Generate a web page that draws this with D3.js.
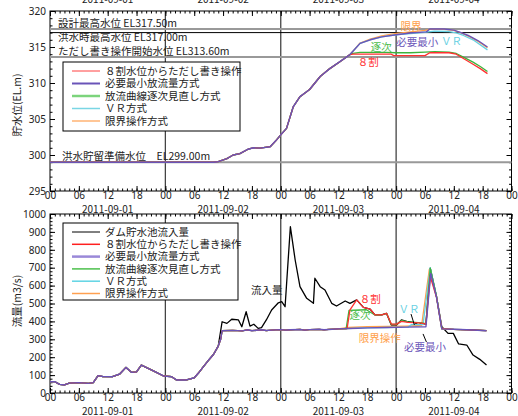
<!DOCTYPE html>
<html>
<head>
<meta charset="utf-8">
<script src="https://cdn.jsdelivr.net/npm/d3@7"></script>
<style>
body { margin: 0; background: #fff; }
svg { font-family: "Noto Sans CJK JP", "Noto Sans", sans-serif; }
</style>
</head>
<body>
<script>
// size of the page
var w = 518;
var h = 416;

// hours from 2011-09-01 00:00
var hourTicks = d3.range(0, 97, 6);
var dateLabels = ["2011-09-01", "2011-09-02", "2011-09-03", "2011-09-04"];

// ---- water level (EL.m), [hour, level]
var levelCommon = [[0,299.0],[12,299.0],[24,299.0],[34,299.0],[35,299.07],[36.8,299.5],[38.1,300.0],[39.5,300.2],
  [41.2,300.8],[42.3,301.0],[43.7,300.95],[45.8,301.15],[47,302.0],[48,302.8],[49.2,303.7],[50.6,306.7],
  [52,308.1],[54,309.1],[56.2,310.9],[58.2,312.0],[60.3,312.96],[62.4,313.95]];
var levelPurpleTail = [[64.5,315.5],[66.6,316.0],[69,316.4],[72,316.7],[75,316.95],[78.3,317.1],[79,317.5],
  [82,317.5],[84,317.35],[85.5,317.0],[87,316.6],[89,315.9],[91,315.0]];
var levelOrangeTail = [[64.5,315.55],[66.6,316.1],[69,316.55],[72,316.9],[75,317.1],[78,317.3],[79,317.45],
  [82,317.45],[84,317.3],[85.5,316.95],[87,316.5],[89,315.8],[91,314.9]];
var levelCyanTail = [[64.5,315.5],[66.6,316.0],[69,316.4],[72,316.7],[75,316.85],[78,317.05],[80,317.2],
  [83,317.15],[84.5,316.95],[86,316.6],[88,316.0],[91,314.6]];
var levelGreenTail = [[63,314.1],[64.5,314.25],[70,314.25],[72,314.2],[75,314.2],[78,314.3],[80,314.35],
  [83,314.3],[84.5,314.1],[86,313.6],[88,312.9],[89.5,312.3],[91,311.6]];
var levelRedTail = [[63,314.0],[71,314.0],[71.5,313.8],[78,313.8],[79,314.2],[83,314.2],[84.5,314.0],
  [86,313.4],[88,312.6],[89.5,312.0],[91,311.3]];

// reference water levels
var refLevels = [317.5, 317.0, 313.6, 299.0];
var refLabels = ["設計最高水位 EL317.50m", "洪水時最高水位 EL317.00m", "ただし書き操作開始水位 EL313.60m", "洪水貯留準備水位　EL299.00m"];

// ---- flow (m3/s), [hour, flow]
var inflow = [[0,63],[1,63],[2,48],[3,45],[4,55],[6,58],[8,54],[9,58],[10,97],[11,92],[13,91],[14.5,106],
  [15.8,143],[17,115],[18,118],[19,156],[21.5,124],[23.6,95],[25.3,91],[26.3,73],[28.4,73],[30,85],[31,115],
  [32,150],[33,184],[34,215],[35,262],[35.8,398],[36.8,389],[37.8,412],[39.2,408],[39.9,370],[40.8,454],
  [41.6,374],[42.4,384],[43.3,361],[44,365],[45,408],[46.1,464],[47.5,504],[48.2,510],[48.9,482],[50,929],
  [51,743],[52,594],[53.4,529],[54.8,501],[55.1,641],[56.2,594],[57.2,575],[58.6,501],[59.6,486],[61.4,514],
  [62.4,501],[63.8,520],[65.2,478],[66.6,468],[67.6,436],[69,436],[70,445],[71,380],[72.1,380],[73.1,408],
  [74.5,398],[75.9,393],[76.6,380],[77.3,389],[78.2,385],[79.1,697],[80.4,538],[81.5,370],[82.8,333],
  [83.9,333],[85,274],[86.7,268],[88,212],[89.4,188],[90.8,156]];
var flowCommon = inflow.slice(0, 27).concat([[35.5,300],[35.8,348],[38,350],[40,347],[41,353],[42,348],
  [44,353],[45,349],[46,351],[48,354],[49,351],[50,353],[52,355],[53,351],[54,354],[56,356],[57,353],
  [58,355],[60,358]]);
var flowPurpleTail = [[62,360],[64,362],[66,364],[70,366],[74,368],[78.2,370],[79.2,668],[80.4,535],
  [81.5,358],[84,356],[88,352],[90.8,348]];
var flowOrangeTail = [[62,366],[66,370],[70,372],[74,374],[77.3,377],[78.9,690],[80.4,540],[81.5,358],
  [84,356],[88,352],[90.8,348]];
var flowCyanTail = [[62,360],[64,362],[66,364],[70,366],[74.5,368],[75.2,382],[77.6,382],[79.1,700],
  [80.4,540],[81.5,358],[84,356],[88,352],[90.8,348]];
var flowGreenTail = [[61.6,358],[62.2,462],[65.8,465],[67.6,436],[69,436],[70,445],[71,383],[72.1,383],
  [73.1,405],[74.5,397],[75.9,395],[77.3,392],[78.2,388],[79.1,697],[80.4,540],[81.5,360],[84,356],
  [88,352],[90.8,348]];
var flowRedTail = [[61.8,360],[62.4,464],[63.8,520],[65.2,478],[66.6,468],[67.6,436],[69,436],[70,445],
  [71,385],[72.1,385],[73.1,400],[74.5,395],[75.9,393],[77.3,390],[78.2,385],[79.1,650],[80.4,535],
  [81.5,360],[84,356],[88,352],[90.8,348]];

var legendTop = ["８割水位からただし書き操作", "必要最小放流量方式", "放流曲線逐次見直し方式", "ＶＲ方式", "限界操作方式"];
var legendBottom = ["ダム貯水池流入量"].concat(legendTop.slice(0, 1), ["必要最小放流量方式", "放流曲線逐次見直し方式", "ＶＲ方式", "限界操作方式"]);

var col = {black: "#000", red: "#ff3030", purple: "#6a54b8", green: "#3cb43c", cyan: "#66d0e2", orange: "#ffa04a"};

var svg = d3.select("body").append("svg").attr("width", w).attr("height", h);

var x = d3.scaleLinear().domain([0, 96]).range([50, 511.5]);
var yTop = d3.scaleLinear().domain([295, 320]).range([191, 11]);
var yBot = d3.scaleLinear().domain([0, 1000]).range([393, 214]);

var pad = function(d) { return String(d % 24).padStart(2, "0"); };

function frame(y, majorY, minorY) {
  var y0 = y.range()[0], y1 = y.range()[1];
  var g = svg.append("g");
  // midnight lines
  g.selectAll("line.day").data([24, 48, 72]).enter().append("line")
    .attr("x1", function(d) { return x(d); }).attr("x2", function(d) { return x(d); })
    .attr("y1", y1).attr("y2", y0).attr("stroke", "#444").attr("stroke-width", 1.3);

  var axes = [
    [d3.axisBottom(x).tickValues(d3.range(0, 97, 1)).tickSize(-2.5).tickFormat(""), 0, y0],
    [d3.axisBottom(x).tickValues(hourTicks).tickSize(-5).tickPadding(1).tickFormat(pad), 0, y0],
    [d3.axisTop(x).tickValues(d3.range(0, 97, 1)).tickSize(-2.5).tickFormat(""), 0, y1],
    [d3.axisTop(x).tickValues(hourTicks).tickSize(-5).tickFormat(""), 0, y1],
    [d3.axisLeft(y).tickValues(minorY).tickSize(-2.5).tickFormat(""), 50, 0],
    [d3.axisLeft(y).tickValues(majorY).tickSize(-5).tickPadding(4).tickFormat(d3.format("d")), 50, 0],
    [d3.axisRight(y).tickValues(minorY).tickSize(-2.5).tickFormat(""), 511.5, 0],
    [d3.axisRight(y).tickValues(majorY).tickSize(-5).tickFormat(""), 511.5, 0]
  ];
  axes.forEach(function(a) {
    var ag = g.append("g").attr("transform", "translate(" + a[1] + "," + a[2] + ")").call(a[0]);
    ag.select(".domain").remove();
    ag.selectAll("text").attr("font-size", "10px").attr("fill", "#222")
      .attr("font-family", "'Liberation Sans Narrow', 'Noto Sans', sans-serif");
  });

  g.selectAll("text.date").data(dateLabels).enter().append("text")
    .attr("x", function(d, i) { return x(i * 24 + 12); })
    .attr("y", y0 + 21.5).attr("text-anchor", "middle")
    .attr("font-size", "10px").attr("fill", "#222").text(function(d) { return d; });

  g.append("rect").attr("x", 50).attr("y", y1).attr("width", 461.5).attr("height", y0 - y1)
    .attr("fill", "none").attr("stroke", "#000");
  return g;
}

function drawLine(data, y, color, width) {
  var line = d3.line().x(function(d) { return x(d[0]); }).y(function(d) { return y(d[1]); });
  svg.append("path").datum(data).attr("d", line).attr("fill", "none")
    .attr("stroke", color).attr("stroke-width", width || 1.3).attr("stroke-linejoin", "round");
}

function label(txt, hx, v, y, color, anchor) {
  svg.append("text").attr("x", x(hx)).attr("y", y(v)).attr("dy", "0.35em")
    .attr("text-anchor", anchor || "middle").attr("font-size", "10.5px").attr("fill", color).text(txt);
}

function legend(names, colors, widths, lx, ly, lw, lh, step) {
  var g = svg.append("g");
  g.append("rect").attr("x", lx).attr("y", ly).attr("width", lw).attr("height", lh)
    .attr("fill", "#fff").attr("stroke", "#000");
  names.forEach(function(n, i) {
    var yy = ly + 9 + i * step;
    g.append("line").attr("x1", lx + 9).attr("x2", lx + 37).attr("y1", yy).attr("y2", yy)
      .attr("stroke", colors[i]).attr("stroke-width", widths[i]);
    g.append("text").attr("x", lx + 42).attr("y", yy).attr("dy", "0.36em")
      .attr("font-size", "10.5px").attr("fill", "#222").text(n);
  });
}

// ===== top chart: water level
svg.append("g").selectAll("text").data(dateLabels).enter().append("text")
  .attr("x", function(d, i) { return x(i * 24 + 12); }).attr("y", 3).attr("text-anchor", "middle")
  .attr("font-size", "10px").attr("fill", "#222").text(function(d) { return d; });

frame(yTop, d3.range(295, 321, 5), d3.range(295, 321, 1));

refLevels.forEach(function(v, i) {
  svg.append("line").attr("x1", 50).attr("x2", 511.5).attr("y1", yTop(v)).attr("y2", yTop(v))
    .attr("stroke", i === 1 ? "#000" : "#999").attr("stroke-width", i === 1 ? 1 : 2);
});
var refY = [26.5, 41, 55, 160];
refLabels.forEach(function(t, i) {
  svg.append("text").attr("x", i === 3 ? 62 : 58).attr("y", refY[i]).attr("font-size", "10.5px")
    .attr("fill", "#222").text(t);
});

drawLine(levelCommon.concat(levelOrangeTail), yTop, col.orange);
drawLine(levelCommon.concat(levelCyanTail), yTop, col.cyan);
drawLine(levelCommon.concat(levelGreenTail), yTop, col.green);
drawLine(levelCommon.concat(levelRedTail), yTop, col.red);
drawLine(levelCommon.concat(levelPurpleTail), yTop, col.purple, 1.4);

label("限界", 75.1, 317.9, yTop, col.orange);
label("必要最小", 76.4, 315.7, yTop, "#6a54b8");
label("ＶＲ", 83.5, 315.8, yTop, col.cyan);
label("逐次", 68.9, 315.0, yTop, "#4cbc4c");
label("８割", 66.2, 312.9, yTop, col.red);

legend(legendTop, ["#ff4040", "#6a54b8", "#7cd47c", "#7ad6e4", "#ffa050"], [1, 2, 2.5, 1.5, 1.2],
  63, 62, 177, 69, 12.5);

svg.append("text").attr("transform", "translate(21,105) rotate(-90)").attr("text-anchor", "middle")
  .attr("font-size", "10.5px").attr("fill", "#222").text("貯水位(EL.m)");

// ===== bottom chart: flow
frame(yBot, d3.range(0, 1001, 100), d3.range(0, 1001, 20));

drawLine(inflow, yBot, col.black, 1.3);
drawLine(flowCommon.concat(flowOrangeTail), yBot, col.orange);
drawLine(flowCommon.concat(flowCyanTail), yBot, col.cyan);
drawLine(flowCommon.concat(flowGreenTail), yBot, col.green);
drawLine(flowCommon.concat(flowRedTail), yBot, col.red);
drawLine(flowCommon.concat(flowPurpleTail), yBot, col.purple, 1.4);

label("流入量", 45.1, 575, yBot, "#222");
label("８割", 66.6, 525, yBot, col.red);
label("逐次", 64.5, 436, yBot, "#4cbc4c");
label("ＶＲ", 74.7, 469, yBot, col.cyan);
label("限界操作", 68.6, 307, yBot, col.orange);
label("必要最小", 78, 257, yBot, "#6a54b8");

[[[75.1, 441], [75.8, 380]], [[77.6, 330], [78.3, 285]]].forEach(function(p) {
  svg.append("line").attr("x1", x(p[0][0])).attr("y1", yBot(p[0][1]))
    .attr("x2", x(p[1][0])).attr("y2", yBot(p[1][1])).attr("stroke", "#000");
});

legend(legendBottom, ["#000", "#ff2020", "#9a88d8", "#4cc04c", "#60d4e4", "#ffa050"], [1, 1.5, 2.5, 1.5, 1.5, 1.5],
  63, 223, 175, 77, 12.3);

svg.append("text").attr("transform", "translate(21,301) rotate(-90)").attr("text-anchor", "middle")
  .attr("font-size", "10.5px").attr("fill", "#222").text("流量(m3/s)");
</script>
</body>
</html>
